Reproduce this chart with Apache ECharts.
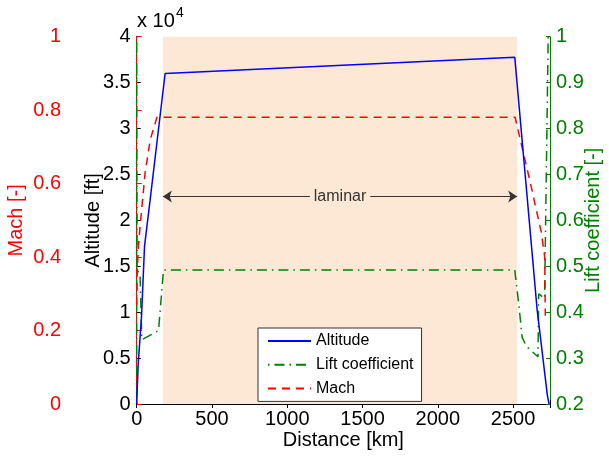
<!DOCTYPE html>
<html>
<head>
<meta charset="utf-8">
<script src="https://cdn.jsdelivr.net/npm/echarts@6/dist/echarts.min.js"></script>
<style>
html,body{margin:0;padding:0;background:#fff;}
#chart{width:609px;height:456px;}
</style>
</head>
<body>
<div id="chart"></div>
<script>
// ---- data ----
const altDist  = [0, 10, 32, 52, 89, 167, 189, 2511, 2660, 2722, 2727, 2739];
const altValue = [0, 0.44, 0.95, 1.72, 2.22, 3.30, 3.60, 3.775, 1.02, 0.17, 0.10, 0]; // x 10^4 ft

const clDist  = [0, 0, 3, 22, 34, 145, 178, 2511, 2540, 2560, 2590, 2665, 2670, 2709, 2733];
const clValue = [0.2, 1.0, 0.49, 0.485, 0.34, 0.36, 0.492, 0.492, 0.41, 0.345, 0.325, 0.303, 0.44, 0.43, 1.0];

const machDist  = [0, 3, 11, 33, 56, 90, 135, 2513, 2610, 2688, 2710, 2714];
const machValue = [0.27, 0.35, 0.43, 0.53, 0.63, 0.72, 0.781, 0.781, 0.61, 0.466, 0.40, 0.24];

const laminarStart = 174;
const laminarEnd = 2527;
const laminarLevel = 2.26;

const distanceTicks = [0, 500, 1000, 1500, 2000, 2500];
const seriesNames = ['Altitude', 'Lift coefficient', 'Mach'];

function zip(xs, ys){ return xs.map((x,i)=>[x, ys[i]]); }

const FONT = '"Liberation Sans", Arial, Helvetica, sans-serif';
const GREEN = '#008000', RED = '#ff0000', BLUE = '#0000ff';
const SHADE = '#fde8d6';
const TICK_FS = 20, NAME_FS = 20;

const chart = echarts.init(document.getElementById('chart'), null, {renderer:'canvas'});
const option = {
  animation: false,
  backgroundColor: '#fff',
  textStyle: {fontFamily: FONT},
  grid: {left: 136.7, right: 59, top: 36.7, bottom: 52, containLabel: false, outerBoundsMode: 'none'},
  legend: {
    orient: 'vertical',
    left: 258, top: 328,
    padding: [5, 8, 5, 9],
    itemWidth: 43, itemHeight: 14, itemGap: 7.7,
    backgroundColor: '#fff',
    borderColor: '#333', borderWidth: 1,
    itemStyle: {color: 'rgba(0,0,0,0)', borderColor: 'rgba(0,0,0,0)', borderWidth: 0},
    textStyle: {fontSize: 16, color: '#000', fontFamily: FONT},
    data: seriesNames
  },
  xAxis: [
    {
      type: 'value', min: 0, max: 2745, interval: 500, position: 'bottom',
      axisLine: {lineStyle: {color: '#000', width: 1}},
      axisTick: {inside: true, length: 4, lineStyle: {color: '#000'}},
      axisLabel: {color: '#000', fontSize: TICK_FS, margin: 5,
        formatter: v => distanceTicks.includes(v) ? String(v) : ''},
      splitLine: {show: false},
      name: 'Distance [km]', nameLocation: 'middle', nameGap: 26, nameMoveOverlap: false,
      nameTextStyle: {fontSize: NAME_FS, color: '#000'}
    },
    {
      type: 'value', min: 0, max: 2745, interval: 500, position: 'top',
      axisLine: {lineStyle: {color: '#000', width: 1}},
      axisTick: {inside: true, length: 4, lineStyle: {color: '#000'}},
      axisLabel: {show: false}, splitLine: {show: false}
    }
  ],
  yAxis: [
    {
      type: 'value', min: 0, max: 4, interval: 0.5, position: 'left',
      axisLine: {show: true, lineStyle: {color: '#000', width: 1}},
      axisTick: {show: true, inside: true, length: 4, lineStyle: {color: '#000'}},
      axisLabel: {color: '#000', fontSize: TICK_FS, margin: 6},
      splitLine: {show: false},
      name: 'Altitude [ft]', nameLocation: 'middle', nameGap: 33, nameMoveOverlap: false,
      nameTextStyle: {fontSize: NAME_FS, color: '#000'}
    },
    {
      type: 'value', min: 0, max: 1, interval: 0.2, position: 'left', offset: 67.7,
      axisLine: {show: true, lineStyle: {color: RED, width: 1}},
      axisTick: {show: true, inside: true, length: 5, lineStyle: {color: RED}},
      axisLabel: {color: RED, fontSize: TICK_FS, margin: 8},
      splitLine: {show: false},
      name: 'Mach [-]', nameLocation: 'middle', nameGap: 43, nameMoveOverlap: false,
      nameTextStyle: {fontSize: NAME_FS, color: RED}
    },
    {
      type: 'value', min: 0.2, max: 1, interval: 0.1, position: 'right',
      axisLine: {show: true, lineStyle: {color: GREEN, width: 1}},
      axisTick: {show: true, inside: true, length: 4, lineStyle: {color: GREEN}},
      axisLabel: {color: GREEN, fontSize: TICK_FS, margin: 6},
      splitLine: {show: false},
      name: 'Lift coefficient [-]', nameLocation: 'middle', nameGap: 33, nameMoveOverlap: false,
      nameTextStyle: {fontSize: NAME_FS, color: GREEN}
    }
  ],
  graphic: [
    {type: 'text', left: 137, top: 11, style: {text: 'x 10', fill: '#000', font: TICK_FS + 'px ' + FONT}},
    {type: 'text', left: 176, top: 6, style: {text: '4', fill: '#000', font: '14px ' + FONT}}
  ],
  series: [
    {
      name: seriesNames[0], type: 'line', xAxisIndex: 0, yAxisIndex: 0,
      data: zip(altDist, altValue), symbol: 'none', showSymbol: false,
      lineStyle: {color: BLUE, width: 1.5}, itemStyle: {color: BLUE},
      z: 4,
      markArea: {
        silent: true, z: 1,
        itemStyle: {color: SHADE},
        data: [[{xAxis: laminarStart}, {xAxis: laminarEnd}]]
      },
      markLine: {
        silent: true,
        symbol: ['arrow', 'arrow'], symbolSize: 9,
        lineStyle: {color: '#333', width: 1, type: 'solid'},
        label: {show: true, position: 'middle', formatter: 'laminar', color: '#333',
          fontSize: 16, backgroundColor: SHADE, padding: [0, 4], distance: 0, verticalAlign: 'middle'},
        data: [[{coord: [laminarStart, laminarLevel]}, {coord: [laminarEnd, laminarLevel]}]]
      }
    },
    {
      name: seriesNames[1], type: 'line', xAxisIndex: 0, yAxisIndex: 2,
      data: zip(clDist, clValue), symbol: 'none', showSymbol: false,
      lineStyle: {color: GREEN, width: 1.5, type: [1.5, 5, 10, 5]}, itemStyle: {color: GREEN},
      z: 3
    },
    {
      name: seriesNames[2], type: 'line', xAxisIndex: 0, yAxisIndex: 1,
      data: zip(machDist, machValue), symbol: 'none', showSymbol: false,
      lineStyle: {color: RED, width: 1.5, type: [8, 6]}, itemStyle: {color: RED},
      z: 3
    }
  ]
};
chart.setOption(option);
</script>
</body>
</html>
